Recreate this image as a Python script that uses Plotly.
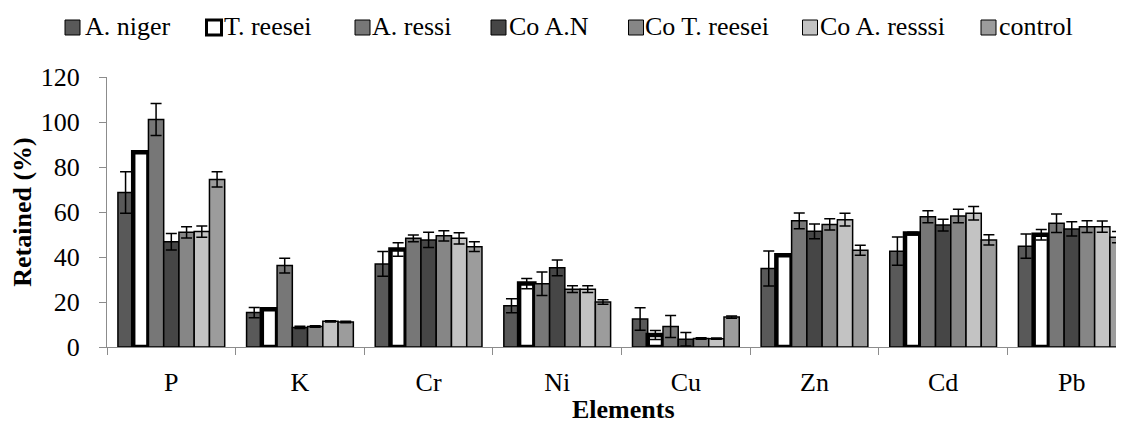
import plotly.graph_objects as go

# ---------------- data ----------------
categories = ["P", "K", "Cr", "Ni", "Cu", "Zn", "Cd", "Pb"]
series_names = ["A. niger", "T. reesei", "A. ressi", "Co A.N", "Co T. reesei", "Co A. resssi", "control"]

a_niger = [68.7, 15.3, 36.9, 18.3, 12.4, 34.9, 42.6, 44.8]
a_niger_err = [9.2, 2.3, 5.5, 3.1, 5.0, 7.8, 6.3, 5.4]

t_reesei = [86.6, 16.8, 43.3, 28.2, 5.3, 40.8, 50.4, 49.9]
t_reesei_err = [0.5, 0.5, 3.0, 2.3, 2.0, 0.5, 0.6, 2.3]

a_ressi = [101.1, 36.2, 48.3, 28.1, 9.1, 56.1, 57.9, 55.0]
a_ressi_err = [7.1, 3.3, 1.5, 5.2, 4.9, 3.5, 2.7, 4.1]

co_an = [46.8, 8.7, 47.6, 35.2, 3.5, 51.4, 54.2, 52.5]
co_an_err = [3.7, 0.5, 3.4, 3.5, 3.0, 3.3, 2.6, 3.2]

co_t_reesei = [51.0, 9.1, 49.4, 25.7, 3.8, 54.5, 58.2, 53.5]
co_t_reesei_err = [2.5, 0.3, 2.3, 1.5, 0.3, 2.5, 3.0, 2.6]

co_a_resssi = [51.3, 11.4, 48.3, 25.7, 3.7, 56.6, 59.4, 53.5]
co_a_resssi_err = [2.5, 0.3, 2.5, 1.5, 0.3, 2.8, 3.0, 2.5]

control = [74.5, 11.1, 44.6, 20.0, 13.3, 43.0, 47.6, 48.8]
control_err = [3.4, 0.3, 2.2, 1.0, 0.5, 2.2, 2.3, 2.5]

y_ticks = [0, 20, 40, 60, 80, 100, 120]

# ---------------- styles ----------------
values = [a_niger, t_reesei, a_ressi, co_an, co_t_reesei, co_a_resssi, control]
errors = [a_niger_err, t_reesei_err, a_ressi_err, co_an_err, co_t_reesei_err, co_a_resssi_err, control_err]
fills = ["#595959", "#ffffff", "#777777", "#464646", "#868686", "#c3c3c3", "#9c9c9c"]
line_w = [1.5, 4.5, 1.5, 1.5, 1.5, 1.5, 1.5]

FONT = "Liberation Serif"
OFF = 8                      # page body margin offset
W, H = 1124 - OFF, 426 - OFF
L, R, T = 107 - OFF, 0, 77 - OFF
B = H - (347 - OFF)
PW, PH = W - L - R, H - T - B


def px(x):                   # screen pixel x -> paper x
    return (x - OFF - L) / PW


def py(y):                   # screen pixel y -> paper y
    return (H - B - (y - OFF)) / PH


fig = go.Figure()
for name, vals, errs, col, lw in zip(series_names, values, errors, fills, line_w):
    fig.add_trace(go.Bar(
        name=name, x=categories, y=vals,
        marker=dict(color=col, line=dict(color="#000000", width=lw)),
        error_y=dict(type="data", array=errs, visible=True, color="#000000",
                     thickness=1.5, width=5.5),
        showlegend=False,
    ))

# custom legend (Excel-like: small square right before text)
sq_left = [65, 206.5, 355, 491, 628.5, 802.5, 981]
txt_left = [85, 223.5, 372, 508.5, 645, 820, 999]
shapes = []
annotations = []
for i, name in enumerate(series_names):
    shapes.append(dict(type="rect", xref="paper", yref="paper",
                       x0=px(sq_left[i]), x1=px(sq_left[i] + 15),
                       y0=py(35), y1=py(20),
                       fillcolor=fills[i],
                       line=dict(color="#000000", width=3 if i == 1 else 1)))
    annotations.append(dict(text=name, xref="paper", yref="paper",
                            x=px(txt_left[i] - 2), y=py(26),
                            xanchor="left", yanchor="middle", showarrow=False,
                            font=dict(family=FONT, size=26, color="#000000")))

# x-axis title centred on full (uncropped) plot width
annotations.append(dict(text="<b>Elements</b>", xref="paper", yref="paper",
                        x=px(623), y=py(409), xanchor="center", yanchor="middle",
                        showarrow=False,
                        font=dict(family=FONT, size=26, color="#000000")))

fig.update_layout(
    width=W, height=H,
    margin=dict(l=L, r=R, t=T, b=B, pad=0),
    paper_bgcolor="#ffffff", plot_bgcolor="#ffffff",
    barmode="group", bargap=0.17, bargroupgap=0.0,
    font=dict(family=FONT, size=26, color="#000000"),
    shapes=shapes, annotations=annotations,
    showlegend=False,
)

fig.update_xaxes(
    type="category", range=[-0.5, 7.406],
    tickson="boundaries", ticks="outside", ticklen=7, tickwidth=1,
    tickcolor="#8c8c8c", showline=True, linecolor="#8c8c8c", linewidth=1,
    showgrid=False, zeroline=False,
    tickfont=dict(family=FONT, size=26, color="#000000"),
    ticklabelstandoff=12,
)

fig.update_yaxes(
    range=[0, 120], tickvals=y_ticks, ticktext=[str(v) for v in y_ticks],
    ticks="outside", ticklen=7, tickwidth=1, tickcolor="#8c8c8c",
    showline=True, linecolor="#8c8c8c", linewidth=1,
    showgrid=False, zeroline=False,
    tickfont=dict(family=FONT, size=26, color="#000000"),
    ticklabelstandoff=14,
    title=dict(text="<b>Retained (%)</b>", standoff=4,
               font=dict(family=FONT, size=26, color="#000000")),
)

fig.write_html("out.html")
